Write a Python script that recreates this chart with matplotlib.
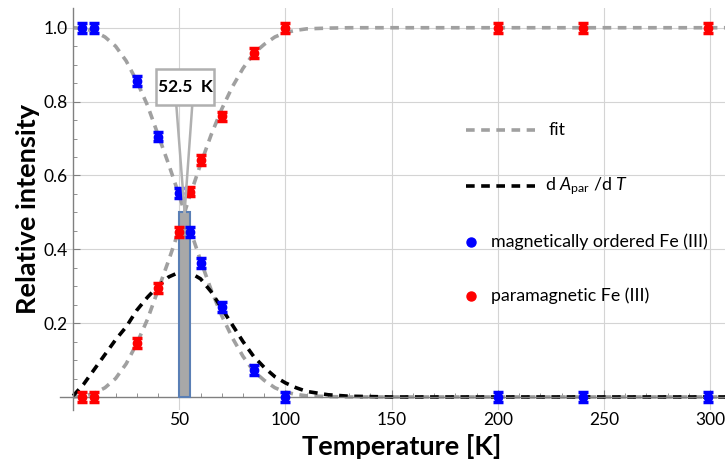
import matplotlib
matplotlib.use('Agg')
import matplotlib.pyplot as plt
from matplotlib.patches import Rectangle

plt.rcParams['font.family'] = ['Lato', 'DejaVu Sans']
plt.rcParams['mathtext.fontset'] = 'custom'
plt.rcParams['mathtext.rm'] = 'Lato'
plt.rcParams['mathtext.it'] = 'Lato:italic'

# ── data ───────────────────────────────────────
T_pts      = [4, 10, 30, 40, 50, 55, 60, 70, 85, 100, 200, 240, 299]
ordered    = [1.0, 1.0, 0.855, 0.705, 0.553, 0.447, 0.363, 0.244, 0.073, 0.0, 0.0, 0.0, 0.0]
paramag    = [0.0, 0.0, 0.146, 0.295, 0.447, 0.556, 0.642, 0.76, 0.932, 1.0, 1.0, 1.0, 1.0]
err        = 0.013

T_fit      = [0, 5, 10, 15, 20, 25, 30, 35, 40, 45, 50, 52.5, 55, 60, 65, 70, 75, 80,
              85, 90, 95, 100, 105, 110, 120, 130, 150, 200, 250, 300, 307]
fit_ord    = [1.0, 0.998, 0.99, 0.975, 0.95, 0.91, 0.855, 0.79, 0.71, 0.63, 0.545, 0.5,
              0.455, 0.37, 0.29, 0.22, 0.16, 0.11, 0.07, 0.045, 0.025, 0.013, 0.007,
              0.003, 0.001, 0.0, 0.0, 0.0, 0.0, 0.0, 0.0]
fit_par    = [0.0, 0.002, 0.01, 0.025, 0.05, 0.09, 0.145, 0.21, 0.29, 0.37, 0.455, 0.5,
              0.545, 0.63, 0.71, 0.78, 0.84, 0.89, 0.93, 0.955, 0.975, 0.987, 0.993,
              0.997, 0.999, 1.0, 1.0, 1.0, 1.0, 1.0, 1.0]
deriv      = [0.003, 0.035, 0.075, 0.115, 0.155, 0.19, 0.235, 0.27, 0.30, 0.325, 0.338, 0.34,
              0.337, 0.32, 0.285, 0.24, 0.195, 0.15, 0.11, 0.08, 0.055, 0.038, 0.025,
              0.015, 0.006, 0.002, 0.0, 0.0, 0.0, 0.0, 0.0]

Tc        = 52.5
Tc_width  = 5
Tc_height = 0.5
Tc_label  = '52.5  K'

# ── figure ─────────────────────────────────────
fig = plt.figure(figsize=(7.25, 4.59), dpi=100)
ax = fig.add_axes([0.083, 0.107, 0.917, 0.876])
ax.set_xlim(-6.1, 307)
ax.set_ylim(-0.035, 1.054)

ax.spines['top'].set_visible(False)
ax.spines['right'].set_visible(False)
ax.spines['left'].set_position(('data', 0))
ax.spines['bottom'].set_position(('data', 0))
for s in ('left', 'bottom'):
    ax.spines[s].set_color('#808080')
    ax.spines[s].set_linewidth(1.0)

ax.set_xticks([50, 100, 150, 200, 250, 300])
ax.set_xticks(range(10, 301, 10), minor=True)
ax.set_yticks([0.2, 0.4, 0.6, 0.8, 1.0])
ax.set_yticks([i * 0.05 for i in range(1, 21)], minor=True)
ax.tick_params(which='both', direction='in', color='#808080')
ax.tick_params(which='major', length=5, labelsize=12.5, pad=4)
ax.tick_params(which='minor', length=3)
ax.tick_params(axis='x', pad=11)
ax.grid(True, which='major', color='#d4d4d4', lw=0.8)
ax.set_axisbelow(True)

ls = (0, (2.4, 1.8))
ax.plot(T_fit, fit_ord, color='#a0a0a0', lw=2.6, ls=ls, zorder=2)
ax.plot(T_fit, fit_par, color='#a0a0a0', lw=2.6, ls=ls, zorder=2)
ax.plot(T_fit, deriv, color='black', lw=2.6, ls=ls, zorder=2)

ax.bar([Tc], [Tc_height], width=Tc_width, color='#a8a8a8', edgecolor='#5a7fb5',
       lw=1.5, zorder=3)

ax.errorbar(T_pts, ordered, yerr=err, fmt='o', color='#0000ff', ms=6, capsize=3.5,
            capthick=2.5, elinewidth=2, zorder=4, clip_on=False)
ax.errorbar(T_pts, paramag, yerr=err, fmt='o', color='#ff0000', ms=6, capsize=3.5,
            capthick=2.5, elinewidth=2, zorder=4, clip_on=False)

# callout for Tc
box_x0, box_x1, box_y0, box_y1 = 39.0, 66.5, 0.79, 0.887
ax.plot([48.6, Tc], [box_y0, Tc_height], color='#b0b0b0', lw=1.8, zorder=5)
ax.plot([56.1, Tc], [box_y0, Tc_height], color='#b0b0b0', lw=1.8, zorder=5)
ax.add_patch(Rectangle((box_x0, box_y0), box_x1 - box_x0, box_y1 - box_y0,
                       facecolor='white', edgecolor='#b0b0b0', lw=1.8, zorder=6))
ax.text((box_x0 + box_x1) / 2, (box_y0 + box_y1) / 2, Tc_label, ha='center',
        va='center', fontsize=12.5, fontweight='bold', zorder=7)

# hand-placed legend
ax.plot([185, 217.5], [0.724, 0.724], color='#a0a0a0', lw=2.6, ls=ls)
ax.text(224, 0.724, 'fit', fontsize=12.8, va='center')
ax.plot([185, 217.5], [0.572, 0.572], color='black', lw=2.6, ls=ls)
ax.text(222, 0.572, r'd $A_{\rm par}$ /d $T$', fontsize=12.8, va='center')
ax.plot([187.3], [0.42], 'o', color='#0000ff', ms=6.5)
ax.text(197, 0.42, 'magnetically ordered Fe (III)', fontsize=12.8, va='center')
ax.plot([187.3], [0.274], 'o', color='#ff0000', ms=6.5)
ax.text(197, 0.274, 'paramagnetic Fe (III)', fontsize=12.8, va='center')

ax.set_xlabel('Temperature [K]', fontsize=19.5, fontweight='bold')
ax.xaxis.set_label_coords(0.513, -0.09)
ax.xaxis.label.set_va('center')
ax.set_ylabel('Relative intensity', fontsize=19.5, fontweight='bold')
ax.yaxis.set_label_coords(-0.048, 0.5)
ax.yaxis.label.set_va('center')

fig.savefig('out.png', dpi=100)
